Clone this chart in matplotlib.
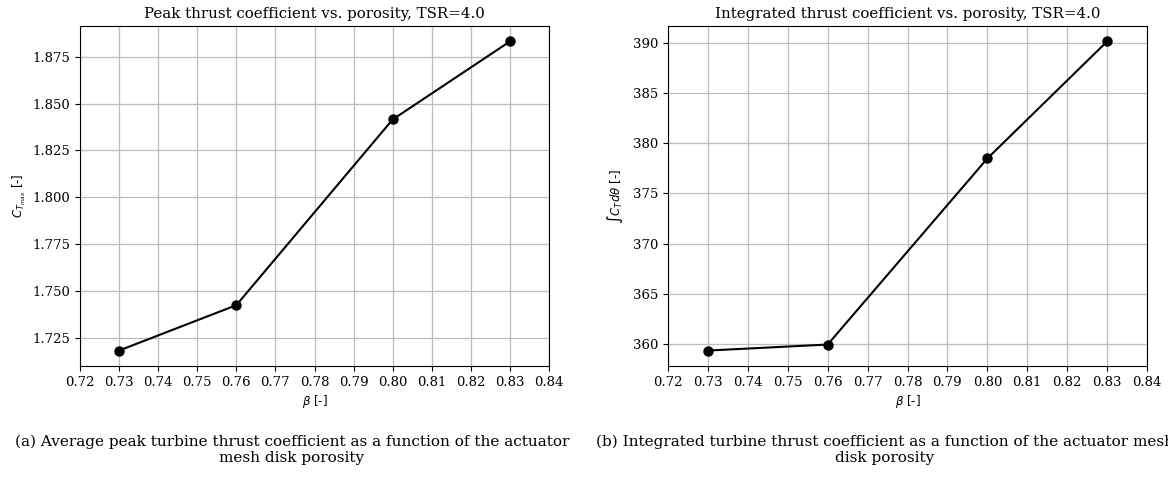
import matplotlib
matplotlib.use("Agg")
import matplotlib.pyplot as plt

# porosity sweep at TSR = 4.0
porosity = [0.73, 0.76, 0.80, 0.83]
ct_peak = [1.7183, 1.7425, 1.8415, 1.8831]
ct_integrated = [359.3, 359.9, 378.5, 390.2]
xticks = [0.72, 0.73, 0.74, 0.75, 0.76, 0.77, 0.78, 0.79, 0.80, 0.81, 0.82, 0.83, 0.84]

plt.rcParams['font.family'] = 'DejaVu Serif'

fig = plt.figure(figsize=(11.68, 4.82), dpi=100)
ax1 = fig.add_axes([80 / 1168, 1 - 366 / 482, 469 / 1168, 340 / 482])
ax2 = fig.add_axes([668 / 1168, 1 - 366 / 482, 479 / 1168, 340 / 482])


def draw(ax, y, title, ylabel, pad):
    ax.plot(porosity, y, color='black', marker='o', markersize=6.5, linewidth=1.5)
    ax.set_xlim(0.72, 0.84)
    ax.set_xticks(xticks)
    ax.set_xticklabels(['%.2f' % t for t in xticks])
    ax.grid(True, color='#bdbdbd', linewidth=0.9)
    ax.set_axisbelow(True)
    ax.tick_params(labelsize=9.5)
    ax.set_title(title, fontsize=10.8, pad=6)
    ax.set_xlabel(r'$\beta$ [-]', fontfamily='DejaVu Sans', fontsize=8.5, labelpad=3)
    ax.set_ylabel(ylabel, fontfamily='DejaVu Sans', fontsize=8.5, labelpad=pad)


draw(ax1, ct_peak, 'Peak thrust coefficient vs. porosity, TSR=4.0', r'$C_{T_{max}}$ [-]', 3)
ax1.set_yticks([1.725, 1.750, 1.775, 1.800, 1.825, 1.850, 1.875])
ax1.set_yticklabels(['1.725', '1.750', '1.775', '1.800', '1.825', '1.850', '1.875'])

draw(ax2, ct_integrated, 'Integrated thrust coefficient vs. porosity, TSR=4.0', r'$\int C_T d\theta$ [-]', 6)

fig.text(292 / 1168, 1 - 450 / 482,
         '(a) Average peak turbine thrust coefficient as a function of the actuator\nmesh disk porosity',
         ha='center', va='center', fontsize=11, linespacing=1.2)
fig.text(885 / 1168, 1 - 450 / 482,
         '(b) Integrated turbine thrust coefficient as a function of the actuator mesh\ndisk porosity',
         ha='center', va='center', fontsize=11, linespacing=1.2)

fig.savefig('out.png', dpi=100)
